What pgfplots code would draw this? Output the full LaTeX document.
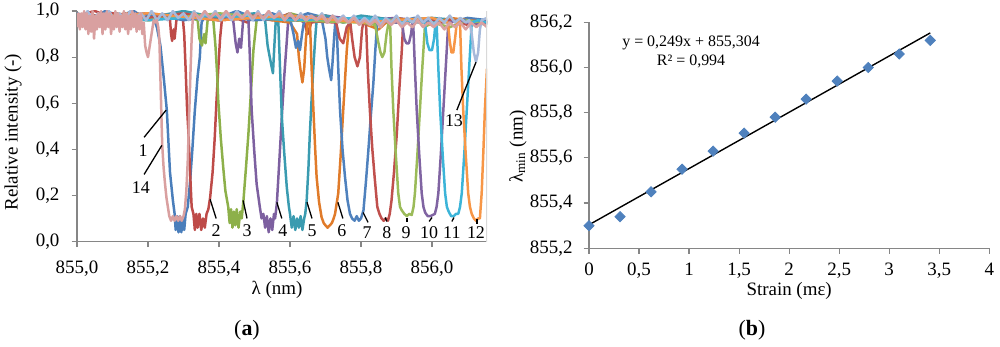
\documentclass[border=0pt]{standalone}
\usepackage{fontspec}
\setmainfont{Liberation Serif}
\usepackage{pgfplots}
\pgfplotsset{compat=1.18}
\definecolor{axgray}{HTML}{868686}
\definecolor{colA}{HTML}{4A7EBB}
\definecolor{colB}{HTML}{BE4B48}
\definecolor{colC}{HTML}{8DB04A}
\definecolor{colD}{HTML}{7D60A0}
\definecolor{colE}{HTML}{3A9BB0}
\definecolor{colF}{HTML}{E07B2A}
\definecolor{colG}{HTML}{4F81BD}
\definecolor{colH}{HTML}{C0504D}
\definecolor{colI}{HTML}{9BBB59}
\definecolor{colJ}{HTML}{8064A2}
\definecolor{colK}{HTML}{3CB4D8}
\definecolor{colL}{HTML}{F79646}
\definecolor{colM}{HTML}{A6B9DA}
\definecolor{colN}{HTML}{D9A0A0}
\definecolor{mkcol}{HTML}{4F81BD}
\begin{document}
\begin{tikzpicture}
\useasboundingbox (0,0) rectangle (500bp,173.5bp);
\pgfplotsset{
  myax/.style={
    scale only axis, anchor=south west,
    axis lines*=left,
    axis line style={draw=axgray, line width=0.6pt},
    tick align=outside, major tick length=2.75bp,
    tick style={draw=axgray, line width=0.6pt},
    xtick pos=bottom, ytick pos=left,
    tick label style={font=\fontsize{9.5}{11}\selectfont},
    label style={font=\fontsize{9.5}{11}\selectfont},
  }
}
\begin{axis}[myax,
  at={(38.5bp,52.75bp)}, width=205bp, height=115.25bp,
  xmin=855, xmax=856.155, ymin=0, ymax=1,
  xtick={855,855.2,855.4,855.6,855.8,856.0},
  ytick={0,0.2,0.4,0.6,0.8,1},
  x tick label style={yshift=-3.5bp, /pgf/number format/fixed, /pgf/number format/fixed zerofill, /pgf/number format/precision=1, /pgf/number format/use comma, /pgf/number format/1000 sep={}, /pgf/number format/assume math mode=true},
  y tick label style={xshift=-2.5bp, /pgf/number format/fixed, /pgf/number format/fixed zerofill, /pgf/number format/precision=1, /pgf/number format/use comma, /pgf/number format/assume math mode=true},
  xlabel={λ (nm)}, ylabel={Relative intensity (-)},
  xlabel style={at={(axis description cs:0.488,-0.21)}, anchor=center},
  ylabel style={at={(axis description cs:-0.156,0.474)}, anchor=center},
  every axis plot/.append style={line width=1.25pt, no markers, line join=round},
]
% 1
\addplot[color=colA] coordinates {(855.00,0.99)(855.04,0.97)(855.08,1.00)(855.12,0.98)(855.16,1.00)(855.19,0.97)(855.205,0.99)(855.215,0.97)
(855.225,0.93)(855.235,0.85)(855.245,0.70)(855.253,0.57)(855.258,0.42)(855.262,0.30)(855.27,0.18)(855.275,0.12)(855.278,0.05)(855.282,0.11)(855.286,0.04)(855.290,0.11)(855.294,0.04)(855.298,0.10)(855.302,0.05)(855.306,0.12)(855.312,0.15)(855.318,0.25)(855.325,0.40)(855.332,0.57)(855.340,0.72)(855.346,0.80)(855.351,0.95)
(855.36,0.98)(855.40,0.97)(855.45,1.00)(855.50,0.97)(855.55,0.99)(855.60,0.96)(855.65,0.99)(855.70,0.97)(855.75,0.95)(855.80,0.97)(855.85,0.95)(855.90,0.97)(855.95,0.95)(856.0,0.96)(856.05,0.95)(856.10,0.97)(856.155,0.96)};
% 2
\addplot[color=colB] coordinates {(855.0,0.98)(855.05,1.0)(855.10,0.97)(855.15,0.99)(855.2,0.97)(855.24,0.98)(855.262,0.96)(855.265,0.90)(855.268,0.87)(855.272,0.92)(855.275,0.88)(855.28,0.96)(855.29,0.98)(855.298,0.97)
(855.302,0.90)(855.306,0.75)(855.310,0.58)(855.314,0.47)(855.318,0.32)(855.323,0.15)(855.328,0.12)(855.332,0.05)(855.336,0.12)(855.340,0.06)(855.345,0.12)(855.350,0.05)(855.355,0.10)(855.360,0.06)(855.365,0.12)(855.370,0.14)(855.375,0.19)(855.382,0.30)(855.388,0.45)(855.393,0.61)(855.398,0.75)(855.403,0.88)(855.408,0.96)
(855.43,0.98)(855.48,0.95)(855.5,0.98)(855.55,0.96)(855.6,0.99)(855.64,0.95)(855.65,0.90)(855.66,0.95)(855.75,0.97)(855.8,0.95)(855.85,0.97)(855.9,0.95)(856.0,0.96)(856.155,0.95)};
% 3
\addplot[color=colC] coordinates {(855.0,0.97)(855.1,0.99)(855.2,0.97)(855.3,0.98)(855.34,0.96)(855.345,0.88)(855.352,0.85)(855.358,0.90)(855.362,0.86)(855.368,0.96)(855.378,0.98)
(855.384,0.96)(855.390,0.85)(855.395,0.72)(855.398,0.61)(855.405,0.45)(855.412,0.32)(855.418,0.22)(855.426,0.15)(855.430,0.08)(855.434,0.14)(855.438,0.06)(855.442,0.13)(855.446,0.07)(855.450,0.14)(855.455,0.06)(855.460,0.13)(855.464,0.10)(855.469,0.18)(855.476,0.32)(855.483,0.47)(855.490,0.65)(855.497,0.83)(855.506,0.96)
(855.53,0.98)(855.57,0.96)(855.6,0.99)(855.65,0.97)(855.7,0.98)(855.75,0.95)(855.8,0.97)(855.85,0.94)(855.9,0.96)(856.0,0.95)(856.155,0.96)};
% 4
\addplot[color=colD] coordinates {(855.0,0.98)(855.1,0.96)(855.2,0.99)(855.3,0.97)(855.4,0.98)(855.44,0.96)(855.447,0.86)(855.452,0.82)(855.457,0.88)(855.462,0.84)(855.468,0.96)(855.478,0.98)
(855.483,0.96)(855.487,0.80)(855.492,0.57)(855.499,0.40)(855.506,0.25)(855.515,0.15)(855.520,0.10)(855.525,0.12)(855.530,0.06)(855.535,0.11)(855.540,0.04)(855.545,0.10)(855.550,0.05)(855.555,0.12)(855.558,0.10)(855.563,0.165)(855.570,0.35)(855.577,0.54)(855.584,0.72)(855.591,0.87)(855.595,0.96)
(855.62,0.98)(855.66,0.96)(855.7,0.98)(855.8,0.96)(855.9,0.97)(856.0,0.95)(856.155,0.96)};
% 5
\addplot[color=colE] coordinates {(855.0,0.97)(855.1,0.99)(855.2,0.97)(855.3,1.0)(855.4,0.97)(855.5,0.99)(855.53,0.96)(855.537,0.85)(855.543,0.80)(855.548,0.76)(855.552,0.73)(855.556,0.85)(855.560,0.96)(855.565,0.98)
(855.567,0.96)(855.572,0.75)(855.577,0.54)(855.584,0.38)(855.591,0.235)(855.597,0.15)(855.600,0.12)(855.605,0.06)(855.610,0.11)(855.615,0.05)(855.620,0.10)(855.625,0.06)(855.630,0.11)(855.635,0.05)(855.640,0.10)(855.643,0.12)(855.647,0.178)(855.652,0.32)(855.656,0.47)(855.661,0.62)(855.666,0.76)(855.671,0.88)(855.675,0.96)
(855.7,0.98)(855.75,0.96)(855.8,0.98)(855.9,0.96)(856.0,0.97)(856.155,0.95)};
% 6
\addplot[color=colF] coordinates {(855.0,0.97)(855.15,0.99)(855.2,0.96)(855.3,0.98)(855.4,0.96)(855.5,0.97)(855.6,0.95)(855.62,0.90)(855.625,0.80)(855.63,0.74)(855.635,0.69)(855.64,0.75)(855.645,0.88)(855.65,0.96)
(855.656,0.96)(855.661,0.75)(855.666,0.57)(855.671,0.40)(855.675,0.28)(855.682,0.17)(855.689,0.105)(855.695,0.08)(855.700,0.07)(855.706,0.06)(855.712,0.07)(855.718,0.08)(855.723,0.10)(855.727,0.12)(855.736,0.21)(855.743,0.38)(855.750,0.57)(855.755,0.70)(855.760,0.83)(855.767,0.96)
(855.8,0.95)(855.85,0.92)(855.87,0.95)(855.9,0.97)(856.0,0.94)(856.05,0.97)(856.155,0.95)};
% 7
\addplot[color=colG] coordinates {(855.0,0.98)(855.1,0.96)(855.2,0.99)(855.3,0.96)(855.4,0.98)(855.5,0.96)(855.6,0.97)(855.61,0.90)(855.617,0.84)(855.623,0.87)(855.628,0.83)(855.634,0.90)(855.64,0.96)(855.69,0.96)(855.70,0.88)(855.705,0.80)(855.71,0.75)(855.716,0.70)(855.72,0.78)(855.725,0.90)(855.728,0.96)
(855.731,0.96)(855.736,0.75)(855.741,0.57)(855.748,0.40)(855.755,0.28)(855.762,0.18)(855.769,0.12)(855.775,0.10)(855.782,0.09)(855.788,0.11)(855.794,0.09)(855.800,0.10)(855.807,0.135)(855.814,0.26)(855.821,0.40)(855.828,0.55)(855.835,0.69)(855.840,0.82)(855.846,0.96)
(855.9,0.95)(855.95,0.97)(856.0,0.95)(856.1,0.96)(856.155,0.94)};
% 8
\addplot[color=colH] coordinates {(855.0,0.97)(855.1,0.99)(855.2,0.97)(855.3,0.99)(855.4,0.96)(855.5,0.98)(855.6,0.96)(855.73,0.95)(855.74,0.88)(855.75,0.86)(855.76,0.93)(855.77,0.95)(855.775,0.88)(855.782,0.80)(855.79,0.76)(855.797,0.80)(855.803,0.92)(855.808,0.96)
(855.814,0.96)(855.819,0.75)(855.825,0.57)(855.832,0.40)(855.839,0.27)(855.846,0.15)(855.852,0.12)(855.858,0.10)(855.864,0.09)(855.870,0.10)(855.876,0.09)(855.881,0.12)(855.886,0.178)(855.893,0.30)(855.901,0.47)(855.908,0.66)(855.915,0.83)(855.919,0.95)
(855.95,0.96)(856.0,0.94)(856.05,0.96)(856.1,0.94)(856.155,0.95)};
% 9
\addplot[color=colI] coordinates {(855.0,0.98)(855.2,0.96)(855.4,0.99)(855.6,0.96)(855.8,0.95)(855.84,0.94)(855.848,0.87)(855.855,0.82)(855.86,0.80)(855.866,0.82)(855.872,0.90)(855.878,0.95)
(855.882,0.95)(855.886,0.75)(855.891,0.57)(855.898,0.38)(855.905,0.21)(855.910,0.15)(855.915,0.135)(855.922,0.12)(855.929,0.11)(855.936,0.12)(855.943,0.115)(855.948,0.15)(855.952,0.21)(855.959,0.38)(855.966,0.57)(855.973,0.76)(855.980,0.93)
(856.0,0.95)(856.05,0.93)(856.1,0.96)(856.155,0.94)};
% 10
\addplot[color=colJ] coordinates {(855.0,0.97)(855.2,0.99)(855.4,0.96)(855.6,0.98)(855.8,0.96)(855.915,0.95)(855.922,0.88)(855.928,0.86)(855.935,0.86)(855.941,0.90)(855.945,0.95)
(855.947,0.95)(855.952,0.75)(855.957,0.57)(855.964,0.38)(855.971,0.21)(855.976,0.15)(855.981,0.125)(855.988,0.11)(855.995,0.11)(856.002,0.115)(856.008,0.12)(856.013,0.15)(856.018,0.21)(856.025,0.38)(856.032,0.57)(856.039,0.76)(856.046,0.95)
(856.08,0.96)(856.12,0.94)(856.155,0.95)};
% 11
\addplot[color=colK] coordinates {(855.0,0.98)(855.2,0.96)(855.4,0.98)(855.6,0.96)(855.8,0.97)(855.98,0.95)(855.987,0.86)(855.993,0.83)(856.0,0.83)(856.006,0.88)(856.01,0.95)
(856.013,0.95)(856.018,0.75)(856.023,0.57)(856.030,0.38)(856.037,0.21)(856.042,0.15)(856.047,0.13)(856.054,0.11)(856.061,0.11)(856.068,0.12)(856.074,0.12)(856.079,0.15)(856.084,0.21)(856.091,0.38)(856.098,0.57)(856.105,0.76)(856.112,0.95)
(856.13,0.96)(856.155,0.95)};
% 12
\addplot[color=colL] coordinates {(855.0,0.97)(855.2,0.99)(855.4,0.96)(855.6,0.98)(855.8,0.95)(856.0,0.97)(856.045,0.95)(856.05,0.87)(856.055,0.82)(856.06,0.82)(856.065,0.88)(856.07,0.95)(856.076,0.96)
(856.079,0.95)(856.083,0.75)(856.088,0.57)(856.095,0.38)(856.102,0.21)(856.107,0.15)(856.112,0.12)(856.118,0.10)(856.124,0.09)(856.130,0.10)(856.135,0.10)(856.14,0.21)(856.145,0.40)(856.149,0.57)(856.155,0.75)};
% 13
\addplot[color=colM] coordinates {(855.000,0.99)(855.015,0.96)(855.030,1.00)(855.045,0.96)(855.060,0.99)(855.075,0.97)(855.090,1.00)(855.105,0.96)(855.120,0.99)(855.135,0.96)(855.150,1.00)(855.165,0.97)(855.180,0.99)(855.195,0.96)(855.210,1.00)(855.225,0.96)(855.240,0.99)(855.255,0.96)(855.270,1.00)(855.285,0.97)(855.300,0.99)(855.315,0.96)(855.330,1.00)(855.345,0.96)(855.360,0.99)(855.375,0.97)(855.390,1.00)(855.405,0.96)(855.420,0.99)(855.435,0.96)(855.450,1.00)(855.465,0.97)(855.480,0.99)(855.495,0.96)(855.510,1.00)(855.525,0.96)(855.540,0.99)(855.555,0.97)(855.570,1.00)(855.585,0.96)(855.600,0.99)(855.615,0.96)(855.630,0.99)(855.645,0.96)(855.660,0.98)(855.675,0.96)(855.690,0.99)(855.705,0.95)(855.720,0.98)(855.735,0.96)(855.750,0.98)(855.765,0.95)(855.780,0.98)(855.795,0.95)(855.810,0.97)(855.825,0.95)(855.840,0.98)(855.855,0.94)(855.870,0.97)(855.885,0.95)(855.900,0.98)(855.915,0.94)(855.930,0.97)(855.945,0.95)(855.960,0.98)(855.975,0.95)(855.990,0.97)(856.005,0.94)(856.020,0.97)(856.035,0.95)(856.050,0.98)(856.065,0.95)(856.080,0.97)(856.095,0.95)(856.105,0.96)(856.112,0.90)(856.118,0.82)(856.124,0.78)(856.130,0.82)(856.135,0.92)(856.140,0.96)(856.155,0.97)};
% 14
\addplot[color=colN] coordinates {(855.000,0.93)(855.004,0.99)(855.008,0.92)(855.012,0.99)(855.016,0.93)(855.020,1.00)(855.024,0.92)(855.028,0.99)(855.032,0.90)(855.036,0.98)(855.040,0.91)(855.044,1.00)(855.048,0.88)(855.052,0.98)(855.056,0.92)(855.060,0.99)(855.064,0.93)(855.068,1.00)(855.072,0.90)(855.076,0.99)(855.080,0.92)(855.084,1.00)(855.088,0.93)(855.092,0.99)(855.096,0.90)(855.100,0.98)(855.104,0.92)(855.108,1.00)(855.112,0.93)(855.116,0.99)(855.120,0.91)(855.124,0.98)(855.128,0.93)(855.132,1.00)(855.136,0.92)(855.140,0.99)(855.144,0.90)(855.148,0.98)(855.152,0.92)(855.156,1.00)(855.160,0.93)(855.164,0.99)(855.168,0.91)(855.172,0.98)(855.176,0.92)(855.180,0.99)(855.184,0.90)(855.188,0.95)(855.192,0.85)(855.196,0.82)(855.200,0.80)(855.204,0.84)(855.208,0.88)(855.212,0.92)(855.216,0.96)(855.220,0.95)(855.225,0.96)
(855.229,0.93)(855.232,0.88)(855.236,0.65)(855.240,0.42)(855.244,0.32)(855.248,0.25)(855.252,0.19)(855.256,0.15)(855.260,0.11)(855.265,0.09)(855.270,0.11)(855.275,0.09)(855.280,0.11)(855.285,0.09)(855.290,0.11)(855.295,0.09)(855.300,0.11)(855.304,0.14)(855.308,0.22)(855.312,0.35)(855.316,0.55)(855.320,0.75)(855.323,0.88)(855.326,0.96)
(855.33,0.99)(855.345,0.97)(855.36,1.0)(855.375,0.97)(855.39,0.99)(855.405,0.97)(855.42,1.0)(855.435,0.97)(855.45,0.99)(855.465,0.97)(855.48,1.0)(855.495,0.97)(855.51,0.99)(855.525,0.97)(855.54,1.0)(855.555,0.97)(855.57,0.99)(855.585,0.96)(855.60,0.99)(855.615,0.96)(855.63,0.98)(855.645,0.96)(855.66,0.98)(855.675,0.96)(855.69,0.98)(855.705,0.95)(855.72,0.98)(855.735,0.95)(855.75,0.97)(855.765,0.95)(855.78,0.97)(855.795,0.94)
(855.81,0.96)(855.825,0.94)(855.84,0.96)(855.855,0.93)(855.87,0.96)(855.885,0.94)(855.90,0.96)(855.915,0.93)(855.93,0.95)(855.945,0.93)(855.96,0.96)(855.975,0.93)(855.99,0.95)(856.005,0.93)(856.02,0.95)(856.035,0.92)(856.05,0.95)(856.065,0.93)(856.08,0.95)(856.095,0.92)(856.11,0.95)(856.125,0.93)(856.14,0.95)(856.155,0.93)};
% light right border
\draw[color=black!15, line width=0.6pt] (rel axis cs:1,0) -- (rel axis cs:1,1);
% annotations
\begin{scope}[black, line width=0.65pt]
\draw (axis cs:855.189,0.452) -- (axis cs:855.251,0.570);
\draw (axis cs:855.189,0.291) -- (axis cs:855.239,0.417);
\draw (axis cs:855.375,0.183) -- (axis cs:855.392,0.100);
\draw (axis cs:855.468,0.178) -- (axis cs:855.479,0.100);
\draw (axis cs:855.563,0.170) -- (axis cs:855.577,0.100);
\draw (axis cs:855.648,0.170) -- (axis cs:855.662,0.100);
\draw (axis cs:855.735,0.170) -- (axis cs:855.749,0.100);
\draw (axis cs:855.806,0.126) -- (axis cs:855.820,0.083);
\draw (axis cs:855.868,0.104) -- (axis cs:855.873,0.087);
\draw (axis cs:855.930,0.104) -- (axis cs:855.930,0.083);
\draw (axis cs:856.000,0.104) -- (axis cs:855.992,0.087);
\draw (axis cs:856.062,0.104) -- (axis cs:856.056,0.087);
\draw (axis cs:856.127,0.096) -- (axis cs:856.127,0.078);
\draw (axis cs:856.070,0.570) -- (axis cs:856.124,0.778);
\end{scope}
\begin{scope}[every node/.style={font=\fontsize{9}{10.5}\selectfont, inner sep=0pt}]
\node at (axis cs:855.186,0.396) {1};
\node at (axis cs:855.180,0.235) {14};
\node at (axis cs:855.392,0.048) {2};
\node at (axis cs:855.479,0.048) {3};
\node at (axis cs:855.580,0.048) {4};
\node at (axis cs:855.662,0.048) {5};
\node at (axis cs:855.746,0.048) {6};
\node at (axis cs:855.817,0.039) {7};
\node at (axis cs:855.873,0.039) {8};
\node at (axis cs:855.927,0.039) {9};
\node at (axis cs:855.992,0.039) {10};
\node at (axis cs:856.056,0.039) {11};
\node at (axis cs:856.124,0.039) {12};
\node at (axis cs:856.062,0.526) {13};
\end{scope}
\end{axis}
\begin{axis}[myax,
  at={(294.5bp,49.35bp)}, width=200.15bp, height=113bp,
  xmin=0, xmax=4, ymin=855.2, ymax=856.2,
  xtick={0,0.5,1,1.5,2,2.5,3,3.5,4},
  ytick={855.2,855.4,855.6,855.8,856.0,856.2},
  x tick label style={yshift=-1bp, /pgf/number format/use comma, /pgf/number format/assume math mode=true},
  y tick label style={xshift=-2bp, /pgf/number format/fixed, /pgf/number format/fixed zerofill, /pgf/number format/precision=1, /pgf/number format/use comma, /pgf/number format/1000 sep={}, /pgf/number format/assume math mode=true},
  xlabel={Strain (mε)}, ylabel={λ\textsubscript{min} (nm)},
  xlabel style={at={(axis description cs:0.5,-0.189)}, anchor=center},
  ylabel style={at={(axis description cs:-0.1775,0.45)}, anchor=center},
]
\addplot[black, line width=0.7pt] coordinates {(0,855.304)(3.41,856.153)};
\addplot[only marks, mark=square*, mark size=1.8bp, mark options={rotate=45, fill=mkcol, draw=mkcol}] coordinates {(0,855.30)(0.31,855.34)(0.62,855.45)(0.93,855.55)(1.24,855.63)(1.55,855.71)(1.86,855.78)(2.17,855.86)(2.48,855.94)(2.79,856.00)(3.10,856.06)(3.41,856.12)};
\node[font=\fontsize{8}{9.6}\selectfont, align=center] at (axis cs:1.02,856.07) {y = 0,249x + 855,304\\R² = 0,994};
\end{axis}
\node[font=\fontsize{11}{13}\selectfont] at (123.5bp,8.5bp) {({\bfseries a})};
\node[font=\fontsize{11}{13}\selectfont] at (376bp,8.5bp) {({\bfseries b})};
\end{tikzpicture}
\end{document}
